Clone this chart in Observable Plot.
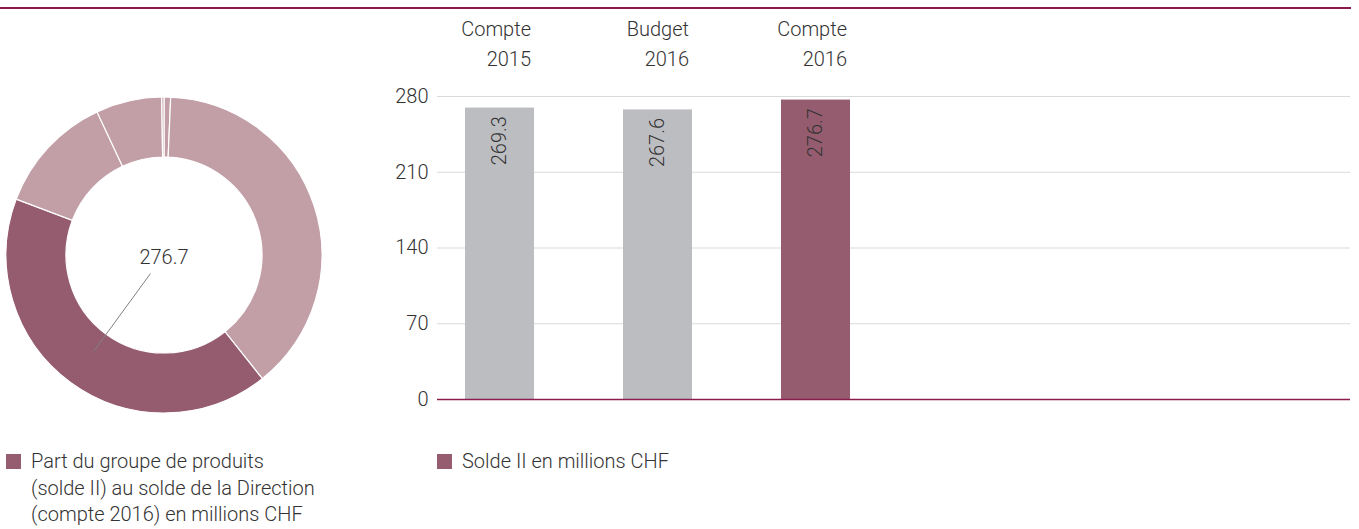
<!DOCTYPE html>
<html>
<head>
<meta charset="utf-8">
<script src="https://cdn.jsdelivr.net/npm/d3@7"></script>
<script src="https://cdn.jsdelivr.net/npm/@observablehq/plot@0.6"></script>
<style>
  html, body { margin: 0; padding: 0; background: #fff; }
  body { font-family: Roboto, "Liberation Sans", sans-serif; font-weight: 300; color: #333; }
  #wrap { position: relative; width: 1359px; height: 529px; overflow: hidden; }
  #topline { position: absolute; left: 0; top: 7px; width: 1351px; height: 2px; background: #8a1c4e; }
  #chart { position: absolute; left: 0; top: 0; }
  .legend { position: absolute; font-size: 20px; line-height: 26.5px; color: #333; }
  .legend .sw { position: absolute; left: 0; top: 6px; width: 15px; height: 15px; background: #965c6f; }
  .legend .tx { margin-left: 25px; white-space: nowrap; }
</style>
</head>
<body>
<div id="wrap">
  <div id="chart"></div>
  <div id="topline"></div>
  <div class="legend" style="left:6px; top:448px;"><div class="sw"></div><div class="tx">Part du groupe de produits<br>(solde II) au solde de la Direction<br>(compte 2016) en millions CHF</div></div>
  <div class="legend" style="left:437px; top:448px;"><div class="sw"></div><div class="tx">Solde II en millions CHF</div></div>
</div>
<script>
// ---- data ----
const barCategories = ["Compte 2015", "Budget 2016", "Compte 2016"];
const barLine1 = ["Compte", "Budget", "Compte"];
const barLine2 = ["2015", "2016", "2016"];
const barValues = [269.3, 267.6, 276.7];
const barColors = ["#bcbdc1", "#bcbdc1", "#955c6f"];
const yTicks = [0, 70, 140, 210, 280];

const donutValues = [4.5, 258, 276.7, 82, 45, 1.5];
const donutColors = ["#c29fa7", "#c29fa7", "#955c6f", "#c29fa7", "#c29fa7", "#c29fa7"];
const donutHighlight = 2;
const donutLabel = "276.7";

const bars = barCategories.map((c, i) => ({cat: c, l1: barLine1[i], l2: barLine2[i], value: barValues[i], color: barColors[i]}));

// donut drawn with d3 shapes inside a Plot custom mark
function donutMark() {
  const cx = 164, cy = 255, r0 = 98, r1 = 158;
  const g = d3.create("svg:g").attr("transform", `translate(${cx},${cy})`);
  const arcs = d3.pie().sort(null).value(d => d)(donutValues);
  const arc = d3.arc().innerRadius(r0).outerRadius(r1);
  g.selectAll("path").data(arcs).join("path")
    .attr("d", arc)
    .attr("fill", (d, i) => donutColors[i])
    .attr("stroke", "#fff")
    .attr("stroke-width", 1.2);
  const h = arcs[donutHighlight];
  const a = (h.startAngle + h.endAngle) / 2;
  const p = r => [r * Math.sin(a), -r * Math.cos(a)];
  const [x1, y1] = p(23), [x2, y2] = p(119);
  g.append("line").attr("x1", x1).attr("y1", y1).attr("x2", x2).attr("y2", y2)
    .attr("stroke", "#808080").attr("stroke-width", 1);
  g.append("text").attr("x", 0).attr("y", 2).attr("text-anchor", "middle").attr("dy", "0.35em")
    .attr("font-size", 20).attr("fill", "#333").text(donutLabel);
  return g.node();
}

const chart = Plot.plot({
  width: 1359,
  height: 440,
  marginLeft: 437,
  marginRight: 9,
  marginTop: 96,
  marginBottom: 41,
  style: {fontFamily: "Roboto, 'Liberation Sans', sans-serif", fontWeight: 300, color: "#333", background: "transparent"},
  x: {domain: barCategories, range: [464, 851], paddingInner: 0.566, paddingOuter: 0, axis: null},
  y: {domain: [0, 280], range: [399, 96], axis: null},
  marks: [
    Plot.ruleY(yTicks.filter(d => d > 0), {stroke: "#dadada", strokeWidth: 1.2}),
    Plot.axisY(yTicks, {tickSize: 0, tickPadding: 9, fontSize: 20, label: null, tickFormat: d => String(d)}),
    Plot.barY(bars, {x: "cat", y: "value", fill: "color"}),
    Plot.ruleY([0], {stroke: "#8a1c4e", strokeWidth: 1.5}),
    Plot.text(bars, {x: "cat", y: "value", text: d => d.value.toFixed(1), rotate: -90, textAnchor: "end", dy: 8, fontSize: 20, fill: "#333"}),
    Plot.text(bars, {x: "cat", frameAnchor: "top", text: d => d.l1 + "\n" + d.l2, textAnchor: "end", lineAnchor: "middle", dx: 31, dy: -55, lineHeight: 1.5, fontSize: 20, fill: "#333"}),
    donutMark
  ]
});
document.getElementById("chart").appendChild(chart);
</script>
</body>
</html>
